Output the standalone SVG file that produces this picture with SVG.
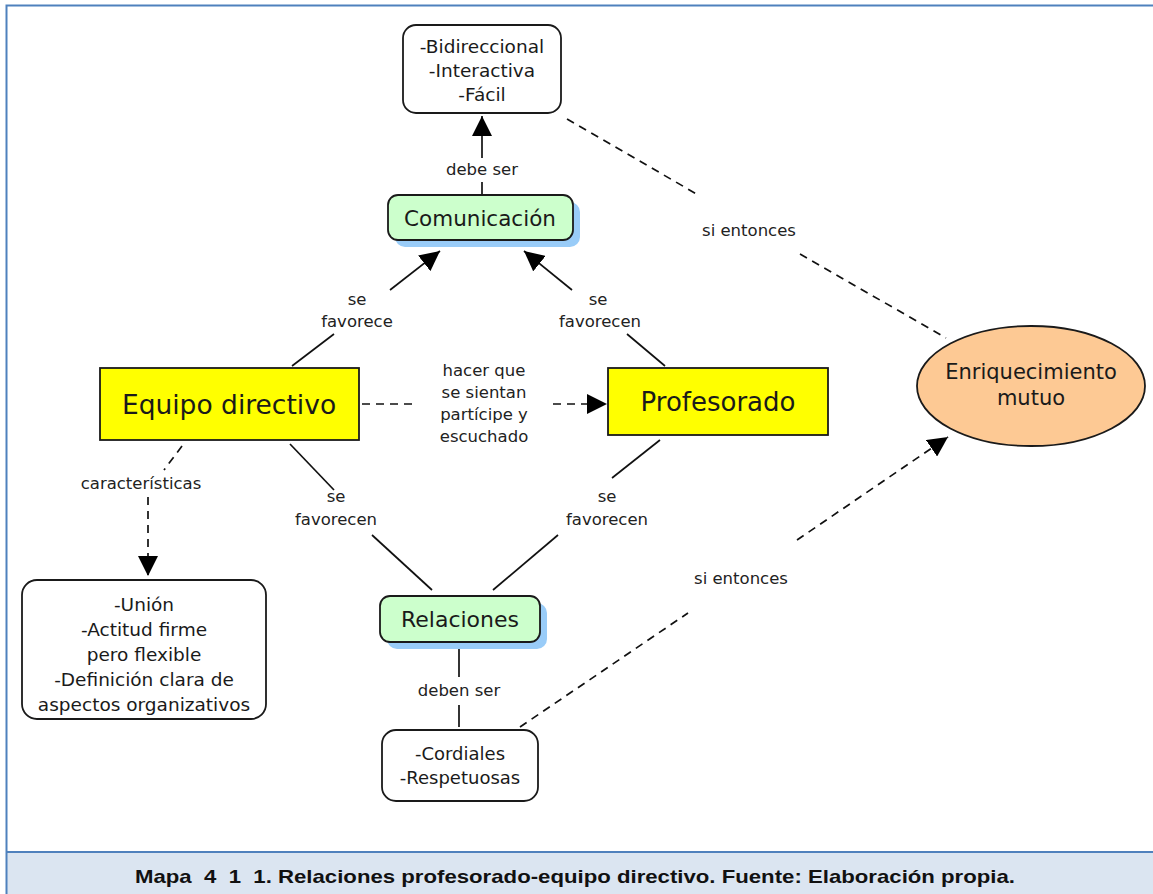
<svg xmlns="http://www.w3.org/2000/svg" width="1153" height="894" viewBox="0 0 1153 894">
<defs>
<marker id="ah" viewBox="0 0 20 20" refX="20" refY="10" markerWidth="20" markerHeight="20" markerUnits="userSpaceOnUse" orient="auto">
<path d="M0,0 L20,10 L0,20 Z" fill="#000"/>
</marker>
<style>
.node{stroke:#1a1a1a;stroke-width:1.8}
.w{fill:#fff}
.g{fill:#ccffcc}
.y{fill:#ffff00}
.sh{fill:#99ccf8;stroke:none}
.t{font-family:"DejaVu Sans",Verdana,sans-serif;fill:#1a1a1a;text-anchor:middle}
.lbl{font-family:"DejaVu Sans",Verdana,sans-serif;fill:#222;text-anchor:middle;font-size:16.5px}
.ln{stroke:#111;stroke-width:1.7;fill:none}
.ds{stroke:#111;stroke-width:1.7;fill:none;stroke-dasharray:8,6}
</style>
</defs>
<rect x="0" y="0" width="1153" height="894" fill="#fff"/>
<rect x="6.5" y="852" width="1147" height="42" fill="#dbe5f1"/>
<path d="M6.5,894 V5.5 H1153 M6.5,852 H1153" fill="none" stroke="#4f81bd" stroke-width="2"/>
<text x="575" y="883" xml:space="preserve" style="font-family:'Liberation Sans Narrow','Liberation Sans',Arial,sans-serif;font-weight:bold;font-size:19px;fill:#111" text-anchor="middle" textLength="880" lengthAdjust="spacingAndGlyphs">Mapa  4  1  1. Relaciones profesorado-equipo directivo. Fuente: Elaboración propia.</text>

<g id="connectors">
<line class="ln" x1="482" y1="194" x2="482" y2="182"/>
<line class="ln" x1="482" y1="158" x2="482" y2="116" marker-end="url(#ah)"/>
<text class="lbl" x="482" y="175">debe ser</text>
<line class="ln" x1="292" y1="366" x2="334" y2="334"/>
<line class="ln" x1="390" y1="290" x2="440" y2="251" marker-end="url(#ah)"/>
<text class="lbl" x="357" y="305">se</text>
<text class="lbl" x="357" y="327">favorece</text>
<line class="ln" x1="665" y1="366" x2="627" y2="334"/>
<line class="ln" x1="572" y1="290" x2="524" y2="251" marker-end="url(#ah)"/>
<text class="lbl" x="598" y="305">se</text>
<text class="lbl" x="600" y="327">favorecen</text>
<line class="ds" x1="362" y1="404" x2="414" y2="404"/>
<line class="ds" x1="553" y1="404" x2="607" y2="404" marker-end="url(#ah)"/>
<text class="lbl" x="484" y="376">hacer que</text>
<text class="lbl" x="484" y="398">se sientan</text>
<text class="lbl" x="484" y="420">partícipe y</text>
<text class="lbl" x="484" y="442">escuchado</text>
<line class="ds" x1="182" y1="446" x2="164" y2="470"/>
<line class="ds" x1="148" y1="497" x2="148" y2="576" marker-end="url(#ah)"/>
<text class="lbl" x="141" y="489">características</text>
<line class="ln" x1="290" y1="444" x2="334" y2="490"/>
<line class="ln" x1="372" y1="535" x2="432" y2="590"/>
<text class="lbl" x="336" y="502">se</text>
<text class="lbl" x="336" y="525">favorecen</text>
<line class="ln" x1="660" y1="440" x2="612" y2="478"/>
<line class="ln" x1="558" y1="535" x2="493" y2="590"/>
<text class="lbl" x="607" y="502">se</text>
<text class="lbl" x="607" y="525">favorecen</text>
<line class="ln" x1="459" y1="648" x2="459" y2="677"/>
<line class="ln" x1="459" y1="705" x2="459" y2="727"/>
<text class="lbl" x="459" y="696">deben ser</text>
<line class="ds" x1="567" y1="119" x2="700" y2="196"/>
<line class="ds" x1="800" y1="254" x2="946" y2="338"/>
<text class="lbl" x="749" y="236">si entonces</text>
<line class="ds" x1="520" y1="727" x2="688" y2="613"/>
<line class="ds" x1="797" y1="540" x2="948" y2="437" marker-end="url(#ah)"/>
<text class="lbl" x="741" y="584">si entonces</text>
</g>

<g id="n-bidireccional">
<rect class="node w" x="403" y="25" width="158" height="88" rx="13"/>
<text class="t" x="482" y="53" font-size="18.5">-Bidireccional</text>
<text class="t" x="482" y="77" font-size="18.5">-Interactiva</text>
<text class="t" x="482" y="101" font-size="18.5">-Fácil</text>
</g>
<g id="n-comunicacion">
<rect class="sh" x="395" y="202" width="185" height="45" rx="10"/>
<rect class="node g" x="388" y="195" width="185" height="45" rx="10"/>
<text class="t" x="480" y="226" font-size="21.5">Comunicación</text>
</g>
<g id="n-equipo">
<rect class="node y" x="100" y="368" width="259" height="72"/>
<text class="t" x="229" y="414" font-size="26.5">Equipo directivo</text>
</g>
<g id="n-profesorado">
<rect class="node y" x="608" y="368" width="220" height="67"/>
<text class="t" x="718" y="411" font-size="26">Profesorado</text>
</g>
<g id="n-enriquecimiento">
<ellipse class="node" cx="1031" cy="386" rx="114" ry="60" fill="#fdc994"/>
<text class="t" x="1031" y="379" font-size="21">Enriquecimiento</text>
<text class="t" x="1031" y="405" font-size="21">mutuo</text>
</g>
<g id="n-caracteristicas">
<rect class="node w" x="22" y="580" width="244" height="139" rx="15"/>
<text class="t" x="144" y="611" font-size="18.5">-Unión</text>
<text class="t" x="144" y="636" font-size="18.5">-Actitud firme</text>
<text class="t" x="144" y="661" font-size="18.5">pero flexible</text>
<text class="t" x="144" y="686" font-size="18.5">-Definición clara de</text>
<text class="t" x="144" y="711" font-size="18.5">aspectos organizativos</text>
</g>
<g id="n-relaciones">
<rect class="sh" x="387" y="603" width="160" height="46" rx="10"/>
<rect class="node g" x="380" y="596" width="160" height="46" rx="10"/>
<text class="t" x="460" y="627" font-size="22">Relaciones</text>
</g>
<g id="n-cordiales">
<rect class="node w" x="382" y="730" width="156" height="71" rx="14"/>
<text class="t" x="460" y="760" font-size="18">-Cordiales</text>
<text class="t" x="460" y="784" font-size="18">-Respetuosas</text>
</g>
</svg>
